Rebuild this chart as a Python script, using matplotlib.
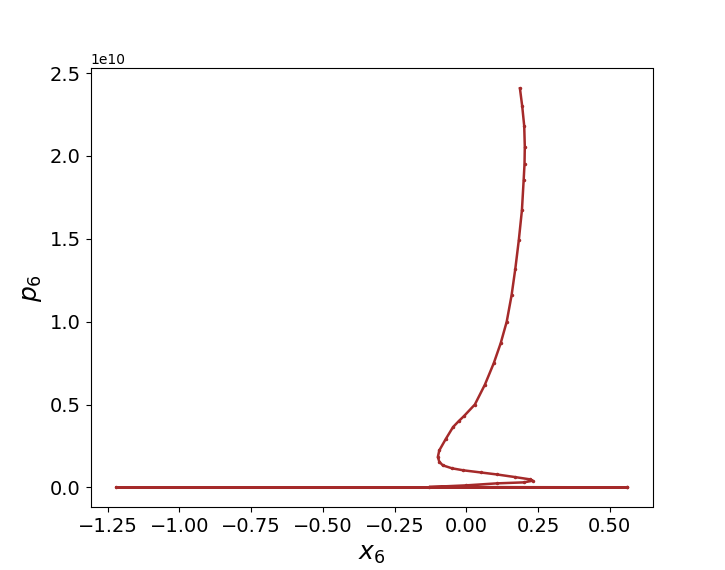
import matplotlib
matplotlib.use("Agg")
import matplotlib.pyplot as plt

# trajectory (p in units of 1e10)
x6 = [0.187, 0.195, 0.202, 0.204, 0.203, 0.200, 0.194, 0.183, 0.171, 0.158,
      0.141, 0.120, 0.096, 0.065, 0.030, -0.008, -0.026, -0.046, -0.072,
      -0.094, -0.099, -0.094, -0.082, -0.050, -0.011, 0.050, 0.106, 0.170,
      0.223, 0.232, 0.200, 0.106, 0.000, -0.129, 0.560, -1.220, 0.560]
p6 = [2.408, 2.30, 2.18, 2.055, 1.95, 1.854, 1.673, 1.49, 1.32, 1.16,
      1.00, 0.87, 0.75, 0.62, 0.50, 0.43, 0.40, 0.364, 0.29,
      0.223, 0.183, 0.155, 0.133, 0.115, 0.103, 0.090, 0.078, 0.062,
      0.048, 0.040, 0.030, 0.024, 0.012, 0.002, 0.0, 0.0, 0.0]

fig, ax = plt.subplots(figsize=(7.25, 5.7), dpi=100)
ax.plot(x6, [v * 1e10 for v in p6], color='brown', lw=1.8,
        marker='.', markersize=3)
ax.set_xlabel('$x_6$', fontsize=18)
ax.set_ylabel('$p_6$', fontsize=18)
ax.tick_params(labelsize=14)
ax.set_xticks([-1.25, -1.0, -0.75, -0.5, -0.25, 0.0, 0.25, 0.5])

plt.savefig('out.png')
